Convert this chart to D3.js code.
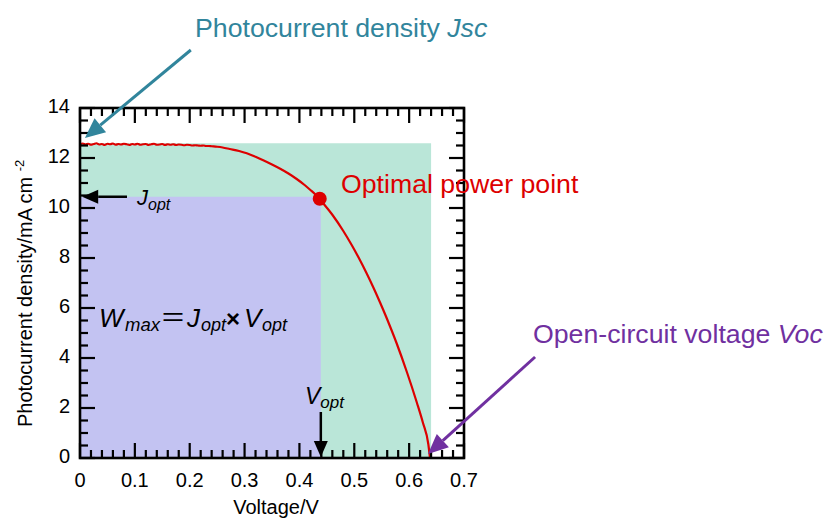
<!DOCTYPE html>
<html>
<head>
<meta charset="utf-8">
<script src="https://cdn.jsdelivr.net/npm/d3@7"></script>
</head>
<body style="margin:0">
<svg id="chart" width="825" height="518" font-family="Liberation Sans, Arial, sans-serif"></svg>
<script>
// ---- data ----
const voltage = [
  0.000,0.005,0.010,0.015,0.020,0.025,0.030,0.035,0.040,0.045,
  0.050,0.055,0.060,0.065,0.070,0.075,0.080,0.085,0.090,0.095,
  0.100,0.105,0.110,0.115,0.120,0.125,0.130,0.135,0.140,0.145,
  0.150,0.155,0.160,0.165,0.170,0.175,0.180,0.185,0.190,0.195,
  0.200,0.205,0.210,0.215,0.220,0.225,0.230,0.235,0.240,
  0.250,0.260,0.273,0.290,0.304,0.320,0.334,0.350,0.365,0.380,
  0.395,0.410,0.420,0.430,0.437,0.444,0.460,0.480,0.495,0.510,
  0.522,0.535,0.547,0.559,0.568,0.577,0.586,0.596,0.605,0.614,
  0.625,0.635,0.638
];
const current = [
  12.55,12.58,12.54,12.57,12.53,12.56,12.59,12.54,12.56,12.52,
  12.57,12.55,12.58,12.53,12.56,12.54,12.57,12.55,12.52,12.56,
  12.54,12.57,12.53,12.55,12.56,12.52,12.55,12.57,12.53,12.54,
  12.56,12.52,12.55,12.53,12.55,12.52,12.54,12.53,12.51,12.53,
  12.52,12.50,12.51,12.50,12.49,12.50,12.48,12.48,12.47,
  12.45,12.42,12.36,12.28,12.19,12.05,11.91,11.74,11.57,11.38,
  11.16,10.91,10.72,10.52,10.35,10.17,9.73,9.08,8.53,7.93,
  7.41,6.81,6.22,5.60,5.11,4.60,4.06,3.43,2.84,2.22,
  1.42,0.55,0.00
];
const optimalPoint = [0.437, 10.37];     // [V, J]
const maxPowerRect = [0.439, 10.45];     // Vopt, Jopt (purple area)
const idealRect = [0.640, 12.59];        // Voc, Jsc (green area)
const xTicks = [0, 0.1, 0.2, 0.3, 0.4, 0.5, 0.6, 0.7];
const xTickLabels = ["0", "0.1", "0.2", "0.3", "0.4", "0.5", "0.6", "0.7"];
const yTicks = [0, 2, 4, 6, 8, 10, 12, 14];
const yTickLabels = ["0", "2", "4", "6", "8", "10", "12", "14"];

// ---- layout ----
const svg = d3.select("#chart");
const pL = 80, pR = 464, pT = 108, pB = 458;
const x = d3.scaleLinear().domain([0, 0.7]).range([pL, pR]);
const y = d3.scaleLinear().domain([0, 14]).range([pB, pT]);

const green = "#bae6d8", lilac = "#c3c3f2";
const red = "#dd0000", teal = "#31859c", purple = "#7030a0";

const gFill = svg.append("g");
const gCurve = svg.append("g");
const gTicks = svg.append("g");
const gText = svg.append("g");

// fills
gFill.append("rect")
  .attr("x", x(0)).attr("y", y(idealRect[1]))
  .attr("width", x(idealRect[0]) - x(0)).attr("height", y(0) - y(idealRect[1]))
  .attr("fill", green);
gFill.append("rect")
  .attr("x", x(0)).attr("y", y(maxPowerRect[1]))
  .attr("width", x(maxPowerRect[0]) - x(0)).attr("height", y(0) - y(maxPowerRect[1]))
  .attr("fill", lilac);

// ticks (inward on all four sides)
const majorLen = 15, minorLen = 8;
const xMinor = d3.range(1, 35).map(i => i * 0.02).filter((v, i) => (i + 1) % 5 !== 0);
const yMinor = d3.range(1, 28).map(i => i * 0.5).filter((v, i) => (i + 1) % 4 !== 0);
const xSpecs = xTicks.map(v => [v, majorLen]).concat(xMinor.map(v => [v, minorLen]));
const ySpecs = yTicks.map(v => [v, majorLen]).concat(yMinor.map(v => [v, minorLen]));

const tickLines = [];
xSpecs.forEach(([v, len]) => {
  tickLines.push([x(v), pB, x(v), pB - len]);
  tickLines.push([x(v), pT, x(v), pT + len]);
});
ySpecs.forEach(([v, len]) => {
  tickLines.push([pL, y(v), pL + len, y(v)]);
  tickLines.push([pR, y(v), pR - len, y(v)]);
});
gTicks.selectAll("line").data(tickLines).join("line")
  .attr("x1", d => d[0]).attr("y1", d => d[1]).attr("x2", d => d[2]).attr("y2", d => d[3])
  .attr("stroke", "black").attr("stroke-width", 2.2);

// frame
gTicks.append("rect")
  .attr("x", pL).attr("y", pT).attr("width", pR - pL).attr("height", pB - pT)
  .attr("fill", "none").attr("stroke", "#000").attr("stroke-width", 2.6);

// tick labels
gText.append("g").selectAll("text").data(xTicks).join("text")
  .attr("x", d => x(d)).attr("y", 487)
  .attr("text-anchor", "middle").attr("font-size", 20).attr("fill", "#000")
  .text((d, i) => xTickLabels[i]);
gText.append("g").selectAll("text").data(yTicks).join("text")
  .attr("x", 70).attr("y", d => y(d) + 5)
  .attr("text-anchor", "end").attr("font-size", 20).attr("fill", "#000")
  .text((d, i) => yTickLabels[i]);

// axis titles
gText.append("text").attr("x", 276).attr("y", 514).attr("text-anchor", "middle")
  .attr("font-size", 20).text("Voltage/V");
const yl = gText.append("text").attr("transform", "translate(32,427) rotate(-90)")
  .attr("font-size", 20);
yl.append("tspan").text("Photocurrent density/mA cm ");
yl.append("tspan").attr("dy", -8).attr("font-size", 13).text("-2");

// curve
const pts = voltage.map((v, i) => [v, current[i]]);
gCurve.append("path").datum(pts)
  .attr("d", d3.line().x(d => x(d[0])).y(d => y(d[1])).curve(d3.curveMonotoneX))
  .attr("fill", "none").attr("stroke", red).attr("stroke-width", 2.2)
  .attr("stroke-linejoin", "round");
gCurve.append("circle")
  .attr("cx", x(optimalPoint[0])).attr("cy", y(optimalPoint[1])).attr("r", 7)
  .attr("fill", red);

// arrows
function arrow(x1, y1, x2, y2, color, width, headLen, headHalf) {
  const ang = Math.atan2(y2 - y1, x2 - x1);
  const bx = x2 - headLen * Math.cos(ang), by = y2 - headLen * Math.sin(ang);
  gText.append("line").attr("x1", x1).attr("y1", y1).attr("x2", bx).attr("y2", by)
    .attr("stroke", color).attr("stroke-width", width);
  const px = -Math.sin(ang) * headHalf, py = Math.cos(ang) * headHalf;
  gText.append("path")
    .attr("d", `M${x2},${y2}L${bx + px},${by + py}L${bx - px},${by - py}Z`)
    .attr("fill", color);
}
arrow(x(0.202), y(16.32), x(0.009), y(12.8), teal, 3, 20, 9);
arrow(x(0.8295), y(4.04), x(0.6344), y(0.16), purple, 3, 20, 9);
arrow(x(0.0857), y(maxPowerRect[1]), x(0.004), y(maxPowerRect[1]), "#000", 2.5, 16, 7);
arrow(x(maxPowerRect[0]), y(1.84), x(maxPowerRect[0]), y(0.04), "#000", 2.5, 16, 7);

// annotation texts
const annFont = 26.7;
const t1 = gText.append("text").attr("x", 195).attr("y", 37).attr("font-size", annFont).attr("fill", teal);
t1.append("tspan").text("Photocurrent density ");
t1.append("tspan").attr("font-style", "italic").text("Jsc");

gText.append("text").attr("x", 341).attr("y", 193).attr("font-size", annFont).attr("fill", red)
  .text("Optimal power point");

const t3 = gText.append("text").attr("x", 533).attr("y", 343).attr("font-size", annFont).attr("fill", purple);
t3.append("tspan").text("Open-circuit voltage ");
t3.append("tspan").attr("font-style", "italic").text("Voc");

const tj = gText.append("text").attr("x", 137).attr("y", 205).attr("font-style", "italic").attr("fill", "#000");
tj.append("tspan").attr("font-size", 22).text("J");
tj.append("tspan").attr("font-size", 16).attr("dy", 5).text("opt");

const tv = gText.append("text").attr("x", 305).attr("y", 404).attr("font-style", "italic").attr("fill", "#000");
tv.append("tspan").attr("font-size", 23).text("V");
tv.append("tspan").attr("font-size", 17).attr("dy", 4).text("opt");

const tw = gText.append("text").attr("y", 327).attr("font-style", "italic").attr("fill", "#000");
tw.append("tspan").attr("x", 99).attr("font-size", 26).text("W");
tw.append("tspan").attr("x", 125).attr("y", 331).attr("font-size", 18.5).text("max");
tw.append("tspan").attr("x", 160).attr("y", 327).attr("font-size", 26).attr("font-style", "normal")
  .attr("font-family", "'Noto Sans CJK JP', sans-serif").text("＝");
tw.append("tspan").attr("x", 187).attr("y", 327).attr("font-size", 26).text("J");
tw.append("tspan").attr("x", 201).attr("y", 331).attr("font-size", 18).text("opt");
tw.append("tspan").attr("x", 226).attr("y", 327).attr("font-size", 24).attr("font-style", "normal")
  .attr("font-weight", "bold").text("×");
tw.append("tspan").attr("x", 244).attr("y", 327).attr("font-size", 26).text("V");
tw.append("tspan").attr("x", 262).attr("y", 331).attr("font-size", 18).text("opt");
</script>
</body>
</html>
